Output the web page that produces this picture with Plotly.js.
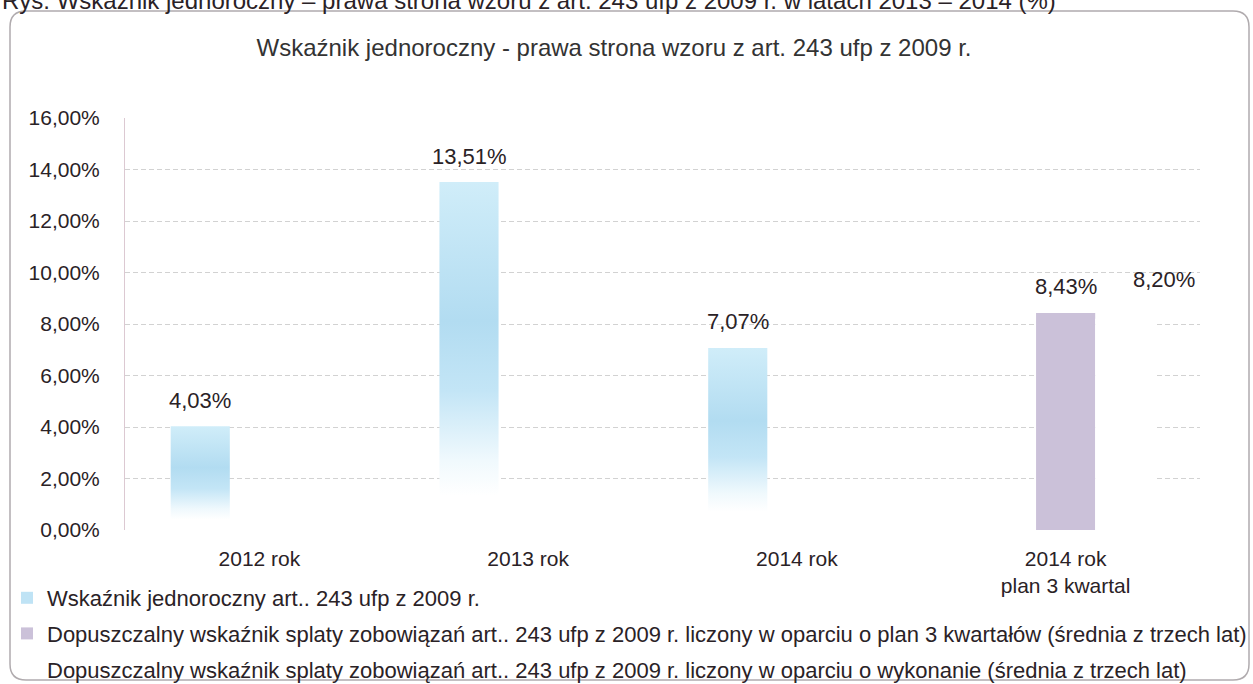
<!DOCTYPE html>
<html>
<head>
<meta charset="utf-8">
<script src="https://cdn.plot.ly/plotly-3.0.1.min.js"></script>
<style>
html,body{margin:0;padding:0;background:#fff;}
#chart{width:1253px;height:684px;}
</style>
</head>
<body>
<div id="chart"></div>
<script>
// ---- data ----
var categories = ['2012 rok', '2013 rok', '2014 rok', '2014 rok<br>plan 3 kwartal'];
var seriesNames = [
  'Wskaźnik jednoroczny art.. 243 ufp z 2009 r.',
  'Dopuszczalny wskaźnik splaty zobowiązań art.. 243 ufp z 2009 r. liczony w oparciu o plan 3 kwartałów (średnia z trzech lat)',
  'Dopuszczalny wskaźnik splaty zobowiązań art.. 243 ufp z 2009 r. liczony w oparciu o wykonanie (średnia z trzech lat)'
];
var wskaznikJednoroczny = [4.03, 13.51, 7.07, null];
var dopuszczalnyPlan = [null, null, null, 8.43];
var dopuszczalnyWykonanie = [null, null, null, 8.20];
var yTickVals = [0, 2, 4, 6, 8, 10, 12, 14, 16];
var chartTitle = 'Wskaźnik jednoroczny - prawa strona wzoru z art. 243 ufp z 2009 r.';
var captionText = 'Rys. Wskaźnik jednoroczny – prawa strona wzoru z art. 243 ufp z 2009 r. w latach 2013 – 2014 (%)';

// ---- styling ----
var FONT = 'Liberation Sans, Arial, sans-serif';
var TXT = '#2a2226';
var seriesColors = ['#bfe3f5', '#cbc1d9', '#ffffff'];
var BARGAP = 0.34;
var M = {l: 125, r: 53, t: 118, b: 154};
var W = 1253, H = 684;
var plotW = W - M.l - M.r, plotH = H - M.t - M.b;
function px(x) { return (x - M.l) / plotW; }
function py(y) { return (H - M.b - y) / plotH; }

var allSeries = [wskaznikJednoroczny, dopuszczalnyPlan, dopuszczalnyWykonanie];
var traces = allSeries.map(function (vals, k) {
  return {
    type: 'bar',
    name: seriesNames[k],
    x: categories,
    y: vals,
    legendgroup: 'g' + k,
    marker: {color: seriesColors[k], line: {width: 0}},
    hoverinfo: 'skip'
  };
});

function fmt(v) { return v.toFixed(2).replace('.', ',') + '%'; }

var slot = (1 - BARGAP) / allSeries.length;
var annotations = [];
allSeries.forEach(function (vals, k) {
  vals.forEach(function (v, i) {
    if (v === null) return;
    var extra = (k === 2);
    annotations.push({
      xref: 'x', yref: 'y',
      x: i + (k - 1) * slot, y: v,
      text: fmt(v), showarrow: false,
      yanchor: 'middle', xanchor: 'center',
      yshift: extra ? 39 : 26, xshift: extra ? 39 : 0,
      font: {family: FONT, size: 22, color: TXT}
    });
  });
});
// caption of the figure, cut off by the top edge of the page
annotations.push({
  xref: 'paper', yref: 'paper', x: px(0), y: py(16),
  xanchor: 'left', yanchor: 'bottom', showarrow: false,
  text: captionText, font: {family: FONT, size: 24, color: TXT}
});

// rounded frame around the chart
var x0 = 10, x1 = 1249, y0 = 11, y1 = 680, r = 16;
function P(x, y) { return px(x) + ',' + py(y); }
var framePath = 'M' + P(x0 + r, y0) + ' L' + P(x1 - r, y0) + ' Q' + P(x1, y0) + ' ' + P(x1, y0 + r) +
  ' L' + P(x1, y1 - r) + ' Q' + P(x1, y1) + ' ' + P(x1 - r, y1) +
  ' L' + P(x0 + r, y1) + ' Q' + P(x0, y1) + ' ' + P(x0, y1 - r) +
  ' L' + P(x0, y0 + r) + ' Q' + P(x0, y0) + ' ' + P(x0 + r, y0) + ' Z';

var layout = {
  width: W, height: H,
  margin: {l: M.l, r: M.r, t: M.t, b: M.b, autoexpand: false},
  paper_bgcolor: '#ffffff', plot_bgcolor: 'rgba(0,0,0,0)',
  font: {family: FONT, color: TXT},
  title: {
    text: chartTitle, font: {family: FONT, size: 24, color: '#333'},
    xref: 'paper', x: px(614), xanchor: 'center',
    yref: 'container', y: 1 - 48 / H, yanchor: 'middle'
  },
  barmode: 'group', bargap: BARGAP, bargroupgap: 0,
  xaxis: {
    type: 'category', automargin: false,
    showgrid: false, showline: false, zeroline: false, ticks: '',
    ticklabelstandoff: 14,
    tickfont: {family: FONT, size: 21, color: TXT}
  },
  yaxis: {
    range: [0, 16], tickmode: 'array', tickvals: yTickVals,
    ticktext: yTickVals.map(fmt), automargin: false,
    showgrid: true, gridcolor: '#d2d2d2', griddash: '5px,3px', gridwidth: 1,
    zeroline: false, showline: true, linecolor: '#dcc9d2', linewidth: 1,
    ticks: '', ticklabelstandoff: 20,
    tickfont: {family: FONT, size: 21, color: TXT}
  },
  showlegend: true,
  legend: {
    orientation: 'v', traceorder: 'grouped', tracegroupgap: 4,
    x: px(7), xanchor: 'left', y: py(577), yanchor: 'top',
    bgcolor: 'rgba(0,0,0,0)', borderwidth: 0,
    font: {family: FONT, size: 22, color: TXT},
    itemsizing: 'constant'
  },
  annotations: annotations,
  shapes: [{
    type: 'path', xref: 'paper', yref: 'paper', path: framePath,
    line: {color: '#b0abae', width: 1.5}, fillcolor: 'rgba(0,0,0,0)', layer: 'below'
  }]
};

Plotly.newPlot('chart', traces, layout, {displayModeBar: false, staticPlot: true}).then(function (gd) {
  // soft vertical gradient for the first series, like the original Excel fill
  var svg = gd.querySelector('.main-svg');
  var defs = svg.querySelector('defs');
  var ns = 'http://www.w3.org/2000/svg';
  var lg = document.createElementNS(ns, 'linearGradient');
  lg.setAttribute('id', 'gradBlue');
  lg.setAttribute('x1', '0'); lg.setAttribute('y1', '0');
  lg.setAttribute('x2', '0'); lg.setAttribute('y2', '1');
  [[0, '#d0edf9'], [0.4, '#b2dcf1'], [0.6, '#c3e5f6'], [0.8, '#f0f9fd'], [0.9, '#ffffff'], [1, '#ffffff']].forEach(function (s) {
    var st = document.createElementNS(ns, 'stop');
    st.setAttribute('offset', s[0]);
    st.setAttribute('stop-color', s[1]);
    lg.appendChild(st);
  });
  defs.appendChild(lg);
  var barTraces = gd.querySelectorAll('.barlayer .trace');
  if (barTraces.length) {
    barTraces[0].querySelectorAll('.point path').forEach(function (p) {
      p.style.fill = 'url(#gradBlue)';
    });
  }
});
</script>
</body>
</html>
